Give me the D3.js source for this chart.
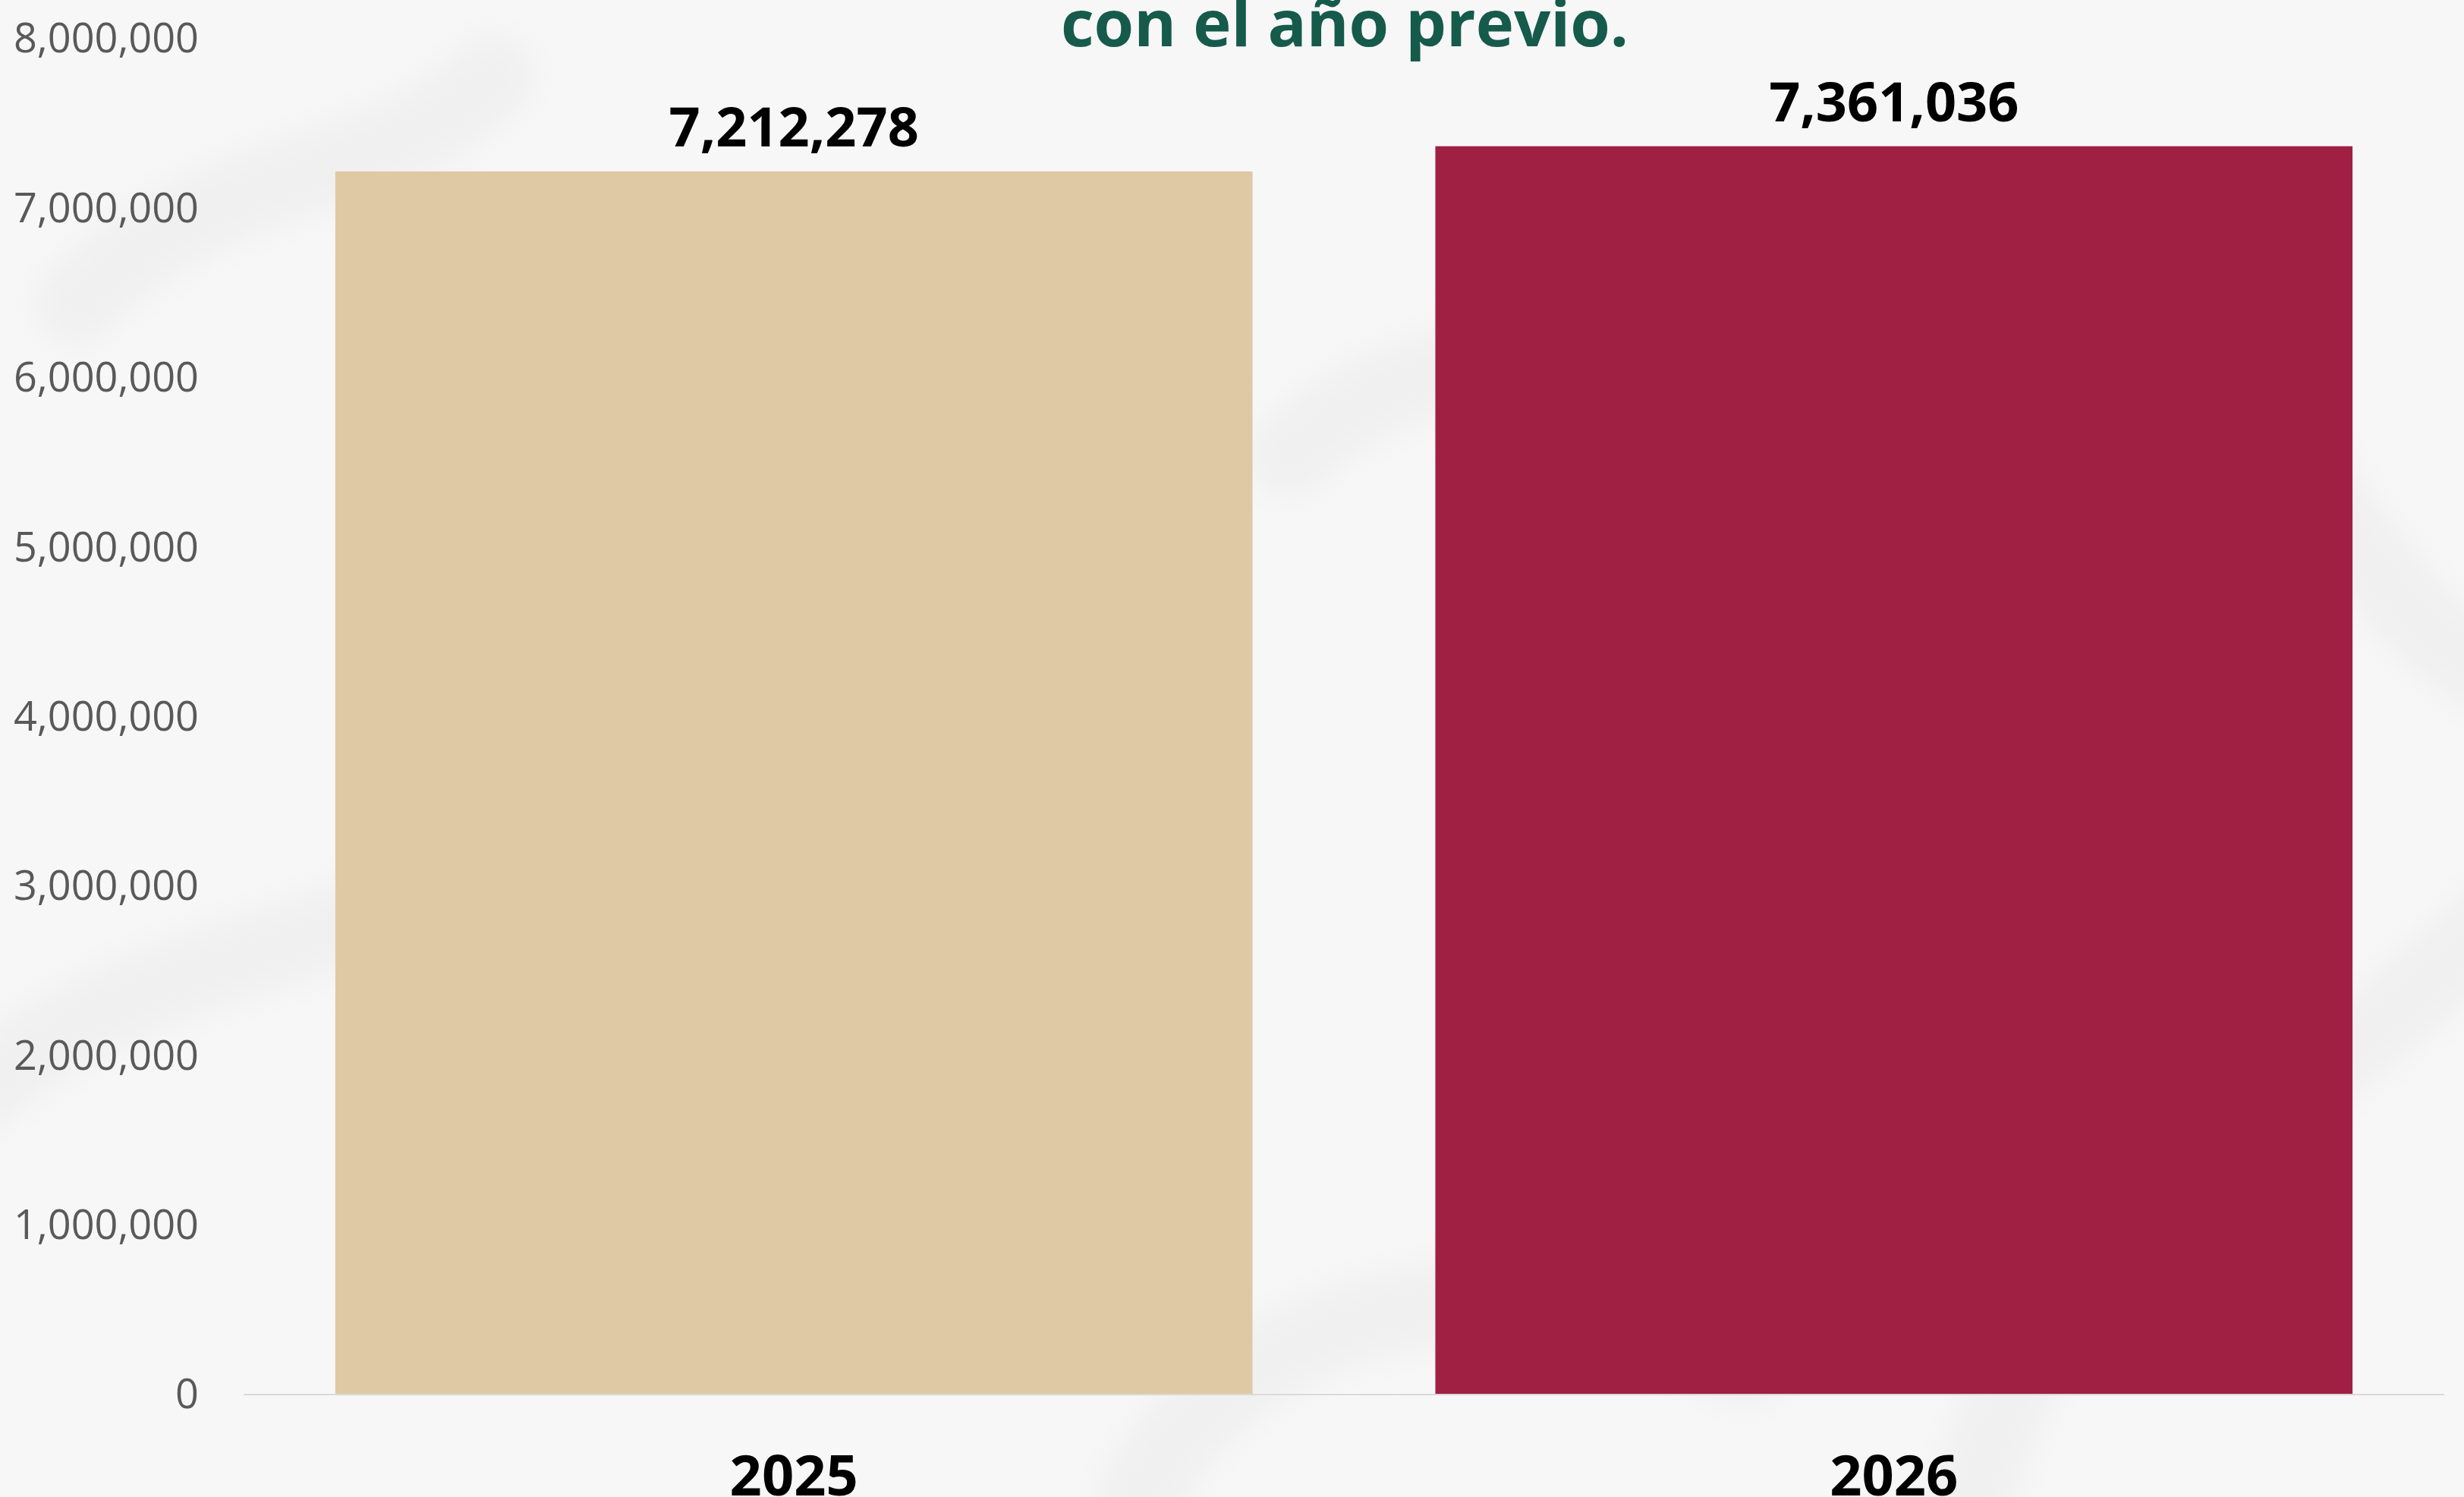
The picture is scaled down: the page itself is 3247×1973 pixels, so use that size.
<!DOCTYPE html>
<html>
<head>
<meta charset="utf-8">
<script src="https://cdn.jsdelivr.net/npm/d3@7/dist/d3.min.js"></script>
<style>
  html, body { margin: 0; padding: 0; background: #f7f7f7; overflow: hidden; }
  svg { display: block; }
</style>
</head>
<body>
<svg id="chart" width="3247" height="1973"></svg>
<script>
// ---- data ----
const categories = ["2025", "2026"];
const values = [7212278, 7361036];
const barColors = ["#dfc9a4", "#a02044"];
const yTicks = [0, 1000000, 2000000, 3000000, 4000000, 5000000, 6000000, 7000000, 8000000];
const titleText = "con el año previo.";

// ---- layout ----
const W = 3247, H = 1973;
const svg = d3.select("#chart");

// background with faint decorative swirls
const bg = svg.append("g");
bg.append("rect").attr("width", W).attr("height", H).attr("fill", "#f7f7f7");
const defs = svg.append("defs");
defs.append("filter").attr("id", "blur").append("feGaussianBlur").attr("stdDeviation", 20);
const swirl = bg.append("g").attr("filter", "url(#blur)").attr("fill", "none")
  .attr("stroke", "#f0f0f0").attr("stroke-linecap", "round");
const swirlPaths = [
  "M -100 1500 C 200 1200, 500 1300, 700 1050 S 900 500, 600 300",
  "M 2600 1973 C 2700 1600, 3000 1500, 3300 1200",
  "M 1500 1973 C 1650 1700, 2000 1650, 2300 1800",
  "M 1700 600 C 1900 400, 2300 450, 2500 700 S 2600 1100, 2300 1200",
  "M 100 400 C 300 200, 500 250, 650 100",
  "M 2800 300 C 3000 500, 3100 800, 3300 900",
  "M 900 1400 C 1100 1300, 1300 1400, 1400 1600"
];
swirl.selectAll("path").data(swirlPaths).join("path")
  .attr("d", d => d).attr("stroke-width", 110);

// scales
const x = d3.scaleBand().domain(categories).range([321, 3221])
  .paddingInner(0.1662).paddingOuter(0.0834);
const y = d3.scaleLinear().domain([0, 8000000]).range([1837, 50]);

const fontFamily = "'Open Sans', 'Noto Sans', sans-serif";

// y axis labels (no line)
const yAxis = d3.axisLeft(y).tickValues(yTicks).tickFormat(d3.format(",")).tickSize(0).tickPadding(0);
const yg = svg.append("g").attr("transform", "translate(262,0)").call(yAxis);
yg.select(".domain").remove();
yg.selectAll("text").attr("font-family", fontFamily).attr("font-size", 54)
  .attr("fill", "#595959").attr("dy", "0.35em");

// bars
svg.append("g").selectAll("rect").data(categories).join("rect")
  .attr("x", d => x(d))
  .attr("width", x.bandwidth())
  .attr("y", (d, i) => y(values[i]))
  .attr("height", (d, i) => y(0) - y(values[i]))
  .attr("fill", (d, i) => barColors[i]);

// baseline
svg.append("line").attr("x1", 321).attr("x2", 3221)
  .attr("y1", y(0) + 1).attr("y2", y(0) + 1)
  .attr("stroke", "#d9d9d9").attr("stroke-width", 2);

// value labels
svg.append("g").selectAll("text").data(categories).join("text")
  .attr("x", d => x(d) + x.bandwidth() / 2)
  .attr("y", (d, i) => y(values[i]) - 33)
  .attr("text-anchor", "middle")
  .attr("font-family", fontFamily).attr("font-weight", 700).attr("font-size", 72)
  .attr("fill", "#000")
  .text((d, i) => d3.format(",")(values[i]));

// x axis labels
const xAxis = d3.axisBottom(x).tickSize(0).tickPadding(0);
const xg = svg.append("g").attr("transform", "translate(0,1971)").call(xAxis);
xg.select(".domain").remove();
xg.selectAll("text").attr("font-family", fontFamily).attr("font-weight", 700)
  .attr("font-size", 74).attr("fill", "#000").attr("dy", 0).attr("y", 0);

// title (last visible line)
svg.append("text").attr("x", 1772).attr("y", 61)
  .attr("text-anchor", "middle")
  .attr("font-family", fontFamily).attr("font-weight", 700).attr("font-size", 85)
  .attr("fill", "#165a4c")
  .text(titleText);
</script>
</body>
</html>
